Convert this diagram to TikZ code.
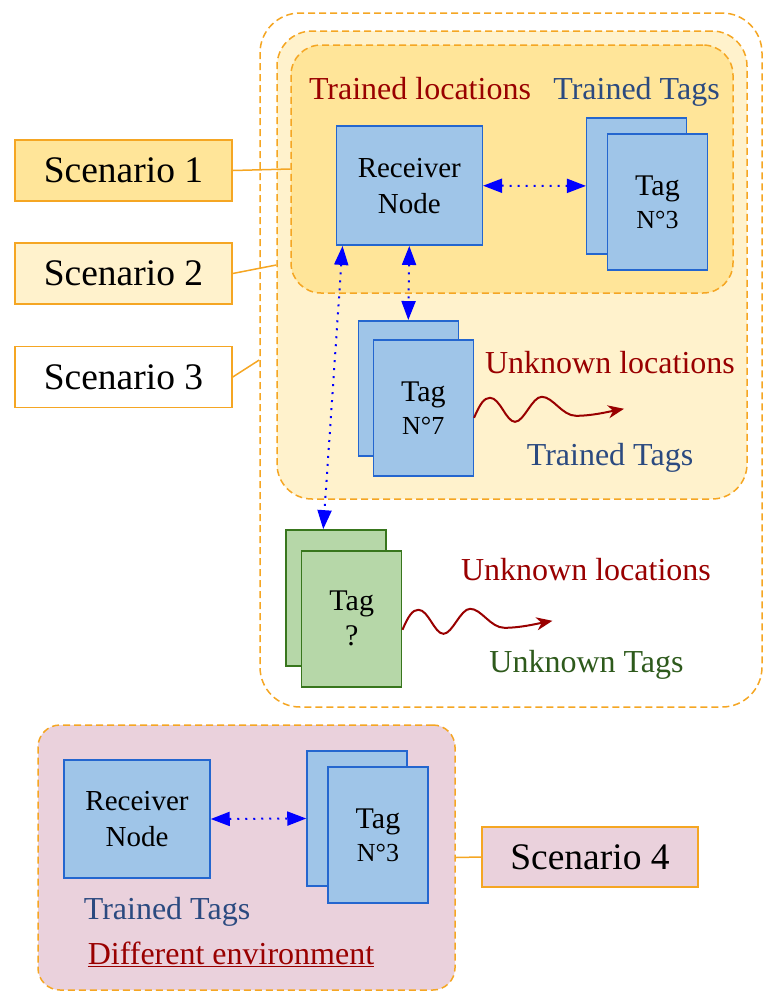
\documentclass[tikz,border=0pt]{standalone}
\usepackage{fontspec}
\setmainfont{Liberation Serif}
\usetikzlibrary{arrows.meta,calc}
\definecolor{orng}{HTML}{F5A623}
\definecolor{fillA}{HTML}{FFE599}
\definecolor{fillB}{HTML}{FFF2CC}
\definecolor{pinkf}{HTML}{EAD1DC}
\definecolor{bluef}{HTML}{9FC5E8}
\definecolor{blued}{HTML}{2466CF}
\definecolor{greenf}{HTML}{B6D7A8}
\definecolor{greend}{HTML}{38761D}
\definecolor{redt}{HTML}{990000}
\definecolor{bluet}{HTML}{2B4A80}
\definecolor{greent}{HTML}{2E5A1C}
\begin{document}
\begin{tikzpicture}[x=1pt,y=-1pt,
  region/.style={draw=orng, dash pattern=on 7pt off 4pt, line width=1.5pt, inner sep=0pt},
  scen/.style={draw=orng, line width=1.5pt, inner sep=0pt, minimum width=217pt, minimum height=61pt, font=\fontsize{37.5}{40}\selectfont},
  conn/.style={draw=orng, line width=1.5pt},
  rcvbox/.style={draw=blued, fill=bluef, line width=1.5pt, inner sep=0pt, minimum width=146pt, minimum height=119pt, align=center, font=\fontsize{29}{36}\selectfont},
  tagbox/.style={draw=blued, fill=bluef, line width=1.5pt, inner sep=0pt, minimum width=100pt, minimum height=136pt, align=center, font=\fontsize{30}{33}\selectfont},
  gtagbox/.style={draw=greend, fill=greenf, line width=1.5pt, inner sep=0pt, minimum width=100pt, minimum height=136pt, align=center, font=\fontsize{30}{35}\selectfont},
  link/.style={draw=blue, line width=2pt, dash pattern=on 2pt off 6pt, {Triangle[length=19pt,width=14pt,fill=blue]}-{Triangle[length=19pt,width=14pt,fill=blue]}},
  wave/.style={draw=redt, line width=2pt, -{Stealth[length=16pt,width=13pt,inset=5pt]}},
  lbl/.style={inner sep=0pt, anchor=base, font=\fontsize{32}{36}\selectfont},
]
\useasboundingbox (0,0) rectangle (779,997);

% regions
\node[region, fill=white, rounded corners=40pt, minimum width=502pt, minimum height=694pt] (s3box) at (511,360) {};
\node[region, fill=fillB, rounded corners=35pt, minimum width=470pt, minimum height=468pt] (s2box) at (512,265) {};
\node[region, fill=fillA, rounded corners=30pt, minimum width=442pt, minimum height=248pt] (s1box) at (512,169) {};
\node[region, fill=pinkf, rounded corners=22pt, minimum width=417pt, minimum height=265pt] (s4box) at (246.5,857.5) {};

% scenario labels
\node[scen, fill=fillA] (s1) at (123.5,170.5) {Scenario 1};
\node[scen, fill=fillB] (s2) at (123.5,273.5) {Scenario 2};
\node[scen, fill=white] (s3) at (123.5,377) {Scenario 3};
\node[scen, fill=pinkf, minimum width=216pt, minimum height=60pt] (s4) at (590,857) {Scenario 4};
\draw[conn] (s1.east) -- (s1box.west);
\draw[conn] (s2.east) -- (s2box.west);
\draw[conn] (s3.east) -- (s3box.west);
\draw[conn] (s4box.east) -- (s4.west);

% scenario 1 content
\node[lbl, text=redt] (tl1) at (420,99) {Trained locations};
\node[lbl, text=bluet] (tt1) at (636.5,99) {Trained Tags};
\node[rcvbox] (rcv) at (409.3,185.7) {Receiver\\Node};
\node[tagbox] (t3b) at (636.7,185.9) {};
\node[tagbox] (t3f) at (657.5,202.2) {Tag\\{\fontsize{26}{33}\selectfont N°3}};
\draw[link] (rcv.east) -- (t3b.west);

% scenario 2 content
\node[tagbox, minimum height=135pt] (t7b) at (408.3,388.3) {};
\node[tagbox] (t7f) at (423.3,407.8) {Tag\\{\fontsize{26}{33}\selectfont N°7}};
\draw[link] (rcv.south) -- (t7b.north);
\node[lbl, text=redt] (ul2) at (610,373) {Unknown locations};
\node[lbl, text=bluet] (tt2) at (610,465) {Trained Tags};
\begin{scope}[shift={($(t7f.east)+(0,10)$)}]
\draw[wave] (0,0) .. controls (6,-14) and (10,-20) .. (16,-20)
  .. controls (26,-20) and (32,4) .. (41,4)
  .. controls (50,4) and (58,-21) .. (67.7,-21)
  .. controls (79,-21) and (88,-2) .. (102,-2)
  .. controls (118,-2) and (134,-6) .. (150,-9);
\end{scope}

% scenario 3 content
\node[gtagbox] (gb) at (336,597.9) {};
\node[gtagbox] (gf) at (351.7,618.8) {Tag\\?};
\draw[link] ($(rcv.south west)+(7,0)$) -- ($(gb.north west)+(38,0)$);
\node[lbl, text=redt] (ul3) at (586,580) {Unknown locations};
\node[lbl, text=greent] (ut3) at (586.5,672.5) {Unknown Tags};
\begin{scope}[shift={($(gf.east)+(0,11)$)}]
\draw[wave] (0,0) .. controls (6,-14) and (10,-20) .. (16,-20)
  .. controls (26,-20) and (32,4) .. (41,4)
  .. controls (50,4) and (58,-21) .. (67.7,-21)
  .. controls (79,-21) and (88,-2) .. (102,-2)
  .. controls (118,-2) and (134,-6) .. (150,-9);
\end{scope}

% scenario 4 content
\node[rcvbox, minimum height=118pt] (rcv4) at (137,819) {Receiver\\Node};
\node[tagbox, minimum height=135pt] (t4b) at (357,818.5) {};
\node[tagbox] (t4f) at (378,835) {Tag\\{\fontsize{26}{33}\selectfont N°3}};
\draw[link] (rcv4.east) -- (t4b.west);
\node[lbl, text=bluet] (tt4) at (167,919) {Trained Tags};
\node[lbl, text=redt] (de4) at (231,964) {\underline{Different environment}};
\end{tikzpicture}
\end{document}
